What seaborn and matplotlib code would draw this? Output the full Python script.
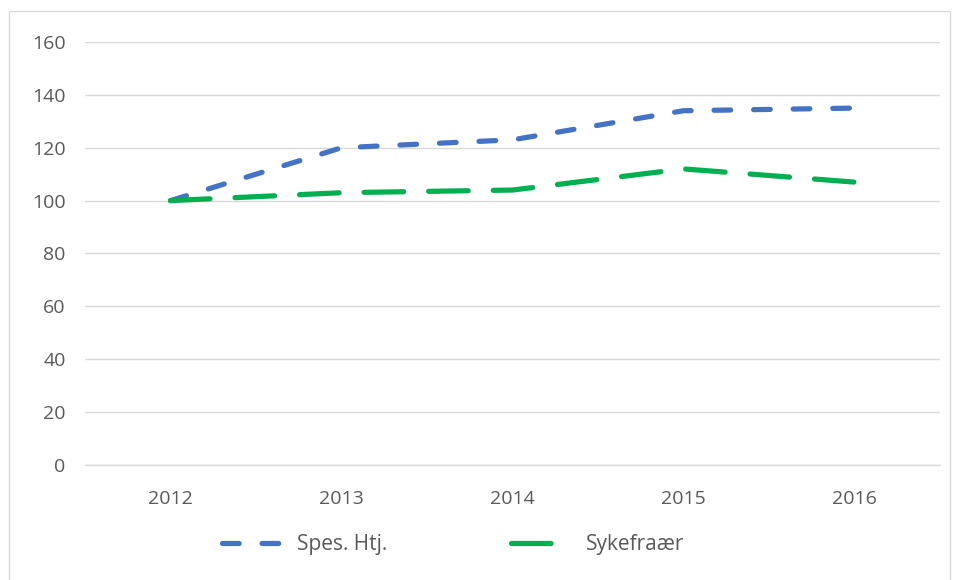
import pandas as pd
import numpy as np
import matplotlib.pyplot as plt
import seaborn as sns
from matplotlib.patches import Rectangle

# data
years = ['2012', '2013', '2014', '2015', '2016']
spes_htj = [100, 120, 123, 134, 135]
sykefravaer = [100, 103, 104, 112, 107]
series_names = ['Spes. Htj.', 'Sykefraær']

df = pd.DataFrame({
    'year': years * 2,
    'value': spes_htj + sykefravaer,
    'series': [series_names[0]] * len(years) + [series_names[1]] * len(years),
})

sns.set_style('white')
plt.rcParams['font.family'] = ['Open Sans', 'DejaVu Sans']
plt.rcParams['lines.dash_capstyle'] = 'round'
plt.rcParams['lines.solid_capstyle'] = 'round'

fig = plt.figure(figsize=(9.57, 5.8), dpi=100)
ax = fig.add_axes([85 / 957, 1 - 465 / 580, 855 / 957, 423 / 580])

# chart area border
fig.patches.append(Rectangle((9 / 957, -0.05), 941 / 957, 1 - 11 / 580 + 0.05,
                             transform=fig.transFigure, fill=False,
                             edgecolor='#d9d9d9', linewidth=1.0))

sns.lineplot(data=df, x='year', y='value', hue='series', style='series',
             palette={'Spes. Htj.': '#4472C4', 'Sykefraær': '#00B050'},
             dashes={'Spes. Htj.': (3.2, 4.4), 'Sykefraær': (7.6, 4.8)},
             linewidth=3.75, ax=ax, sort=False)

ax.set_xlim(-0.5, 4.5)
ax.set_ylim(0, 160)
ax.set_yticks(np.arange(0, 161, 20))
ax.grid(axis='y', color='#d9d9d9', linewidth=1.0)
ax.axhline(0, color='#d9d9d9', linewidth=1.0, clip_on=False, zorder=0)
ax.set_axisbelow(True)
for s in ax.spines.values():
    s.set_visible(False)
ax.tick_params(axis='both', length=0, labelsize=14, colors='#595959')
ax.tick_params(axis='y', pad=14)
ax.tick_params(axis='x', pad=18)
ax.set_xlabel('')
ax.set_ylabel('')

leg = ax.legend(loc='center left', bbox_to_anchor=(0.160, -0.189), ncol=2, frameon=False,
                fontsize=15, handlelength=3.1, columnspacing=5.9, handletextpad=0.53,
                borderpad=0, borderaxespad=0)
for t in leg.get_texts():
    t.set_color('#595959')

fig.savefig('out.png', dpi=100)
